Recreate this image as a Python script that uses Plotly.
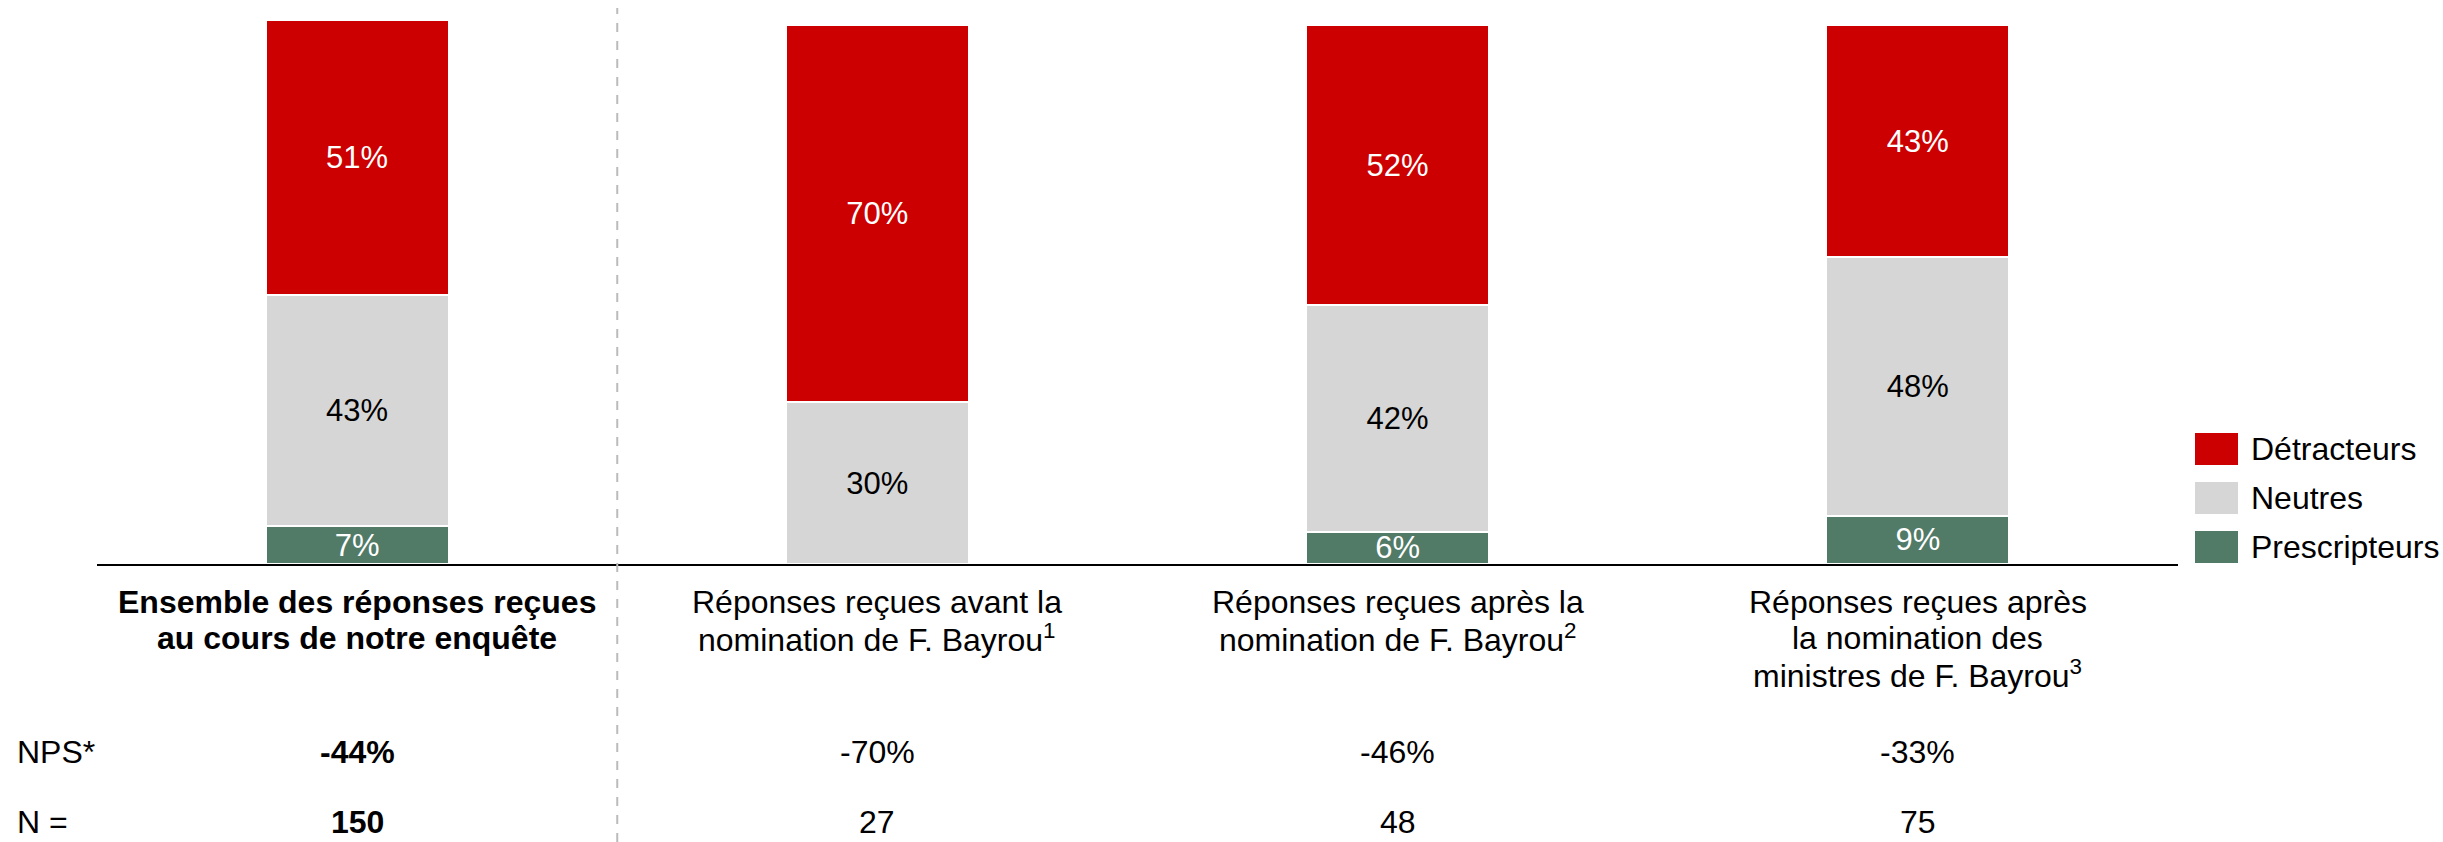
import plotly.graph_objects as go

# ---- data ----
categories = ["Ensemble", "Avant", "Après", "Ministres"]
cat_lines = [
    ["<b>Ensemble des réponses reçues</b>", "<b>au cours de notre enquête</b>"],
    ["Réponses reçues avant la", "nomination de F. Bayrou<sup>1</sup>"],
    ["Réponses reçues après la", "nomination de F. Bayrou<sup>2</sup>"],
    ["Réponses reçues après", "la nomination des", "ministres de F. Bayrou<sup>3</sup>"],
]
prescripteurs = [7, 0, 6, 9]
neutres = [43, 30, 42, 48]
detracteurs = [51, 70, 52, 43]
nps = ["-44%", "-70%", "-46%", "-33%"]
n_values = ["150", "27", "48", "75"]
series_names = ["Prescripteurs", "Neutres", "Détracteurs"]
colors = ["#517A67", "#D6D6D6", "#CC0000"]
text_colors = ["white", "black", "white"]

FONT = "Liberation Sans, Arial, sans-serif"
FS = 32
FS_BAR = 31

W, H = 2443, 842
ML, MR, MT, MB = 97, 265, 10, 278
PW = W - ML - MR
PH = H - MT - MB
Y_BASE = H - MB


def py(pix):
    """pixel row -> paper y"""
    return (Y_BASE - pix) / PH


def px(pix):
    return (pix - ML) / PW


fig = go.Figure()
for name, vals, col, tcol in zip(series_names, [prescripteurs, neutres, detracteurs], colors, text_colors):
    fig.add_trace(go.Bar(
        x=categories, y=vals, name=name,
        marker=dict(color=col, line=dict(color="white", width=2)),
        width=0.352,
        text=[f"{v}%" if v > 0 else None for v in vals],
        textposition="inside", insidetextanchor="middle",
        textfont=dict(color=tcol, size=FS_BAR, family=FONT),
        showlegend=False,
    ))

annotations = []
# category labels
line_y = [602, 638, 674]
for cat, lines in zip(categories, cat_lines):
    for i, ln in enumerate(lines):
        annotations.append(dict(x=cat, xref="x", y=py(line_y[i]), yref="paper",
                                text=ln, showarrow=False, xanchor="center", yanchor="middle",
                                font=dict(size=FS, family=FONT, color="black")))
# NPS and N rows
for k, (cat, v, nv) in enumerate(zip(categories, nps, n_values)):
    b = k == 0
    annotations.append(dict(x=cat, xref="x", y=py(752), yref="paper",
                            text=f"<b>{v}</b>" if b else v, showarrow=False,
                            xanchor="center", yanchor="middle",
                            font=dict(size=FS, family=FONT, color="black")))
    annotations.append(dict(x=cat, xref="x", y=py(822), yref="paper",
                            text=f"<b>{nv}</b>" if b else nv, showarrow=False,
                            xanchor="center", yanchor="middle",
                            font=dict(size=FS, family=FONT, color="black")))
annotations.append(dict(x=px(15), xref="paper", y=py(752), yref="paper", text="NPS*",
                        showarrow=False, xanchor="left", yanchor="middle",
                        font=dict(size=FS, family=FONT, color="black")))
annotations.append(dict(x=px(15), xref="paper", y=py(822), yref="paper", text="N =",
                        showarrow=False, xanchor="left", yanchor="middle",
                        font=dict(size=FS, family=FONT, color="black")))

shapes = []
# dashed separator
shapes.append(dict(type="line", xref="x", x0=0.5, x1=0.5, yref="paper",
                   y0=py(H), y1=py(8), line=dict(color="#BBBBBB", width=2, dash="dash")))
# legend (manual, large swatches)
leg_order = [2, 1, 0]
leg_centers = [449, 498, 547]
for idx, cy in zip(leg_order, leg_centers):
    shapes.append(dict(type="rect", xref="paper", yref="paper",
                       x0=px(2195), x1=px(2238), y0=py(cy + 16), y1=py(cy - 16),
                       fillcolor=colors[idx], line=dict(width=0)))
    annotations.append(dict(x=px(2249), xref="paper", y=py(cy), yref="paper",
                            text=series_names[idx], showarrow=False, xanchor="left", yanchor="middle",
                            font=dict(size=FS, family=FONT, color="black")))

fig.update_layout(
    width=W, height=H,
    margin=dict(l=ML, r=MR, t=MT, b=MB),
    barmode="stack",
    plot_bgcolor="white", paper_bgcolor="white",
    font=dict(family=FONT, size=FS, color="black"),
    uniformtext=dict(minsize=FS_BAR, mode="show"),
    xaxis=dict(type="category", range=[-0.5, 3.5], showticklabels=False, ticks="",
               showgrid=False, showline=True, linecolor="black", linewidth=2, zeroline=False,
               fixedrange=True),
    yaxis=dict(range=[0, PH / 5.386], visible=False, showgrid=False, zeroline=False,
               fixedrange=True),
    annotations=annotations, shapes=shapes,
    showlegend=False,
)

fig.write_html("out.html", config={"displayModeBar": False},
               post_script="document.body.style.margin='0px';document.body.style.overflow='hidden';")
